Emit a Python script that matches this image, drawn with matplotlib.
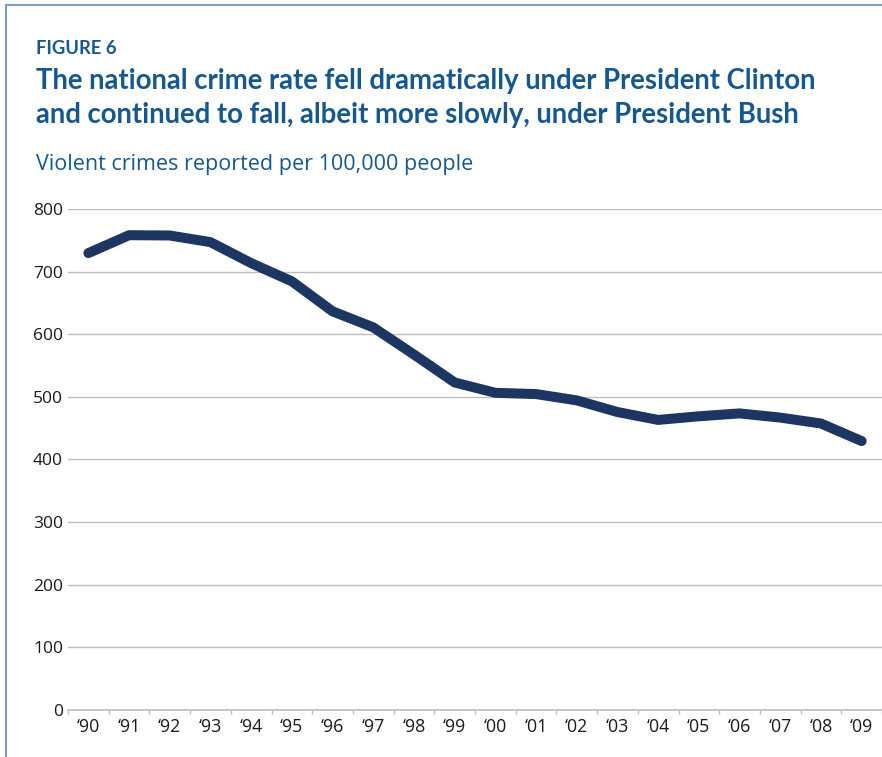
import matplotlib
matplotlib.use('Agg')
import matplotlib.pyplot as plt
from matplotlib.lines import Line2D
import numpy as np

# Violent crimes reported per 100,000 people, 1990-2009
years = ['\u201890', '\u201891', '\u201892', '\u201893', '\u201894', '\u201895', '\u201896',
         '\u201897', '\u201898', '\u201899', '\u201800', '\u201801', '\u201802', '\u201803',
         '\u201804', '\u201805', '\u201806', '\u201807', '\u201808', '\u201809']
crime_rate = [729.6, 758.2, 757.7, 747.1, 713.6, 684.5, 636.6, 611.0, 567.6, 523.0,
              506.5, 504.5, 494.4, 475.8, 463.2, 469.0, 473.6, 466.9, 457.5, 429.4]
y_ticks = [0, 100, 200, 300, 400, 500, 600, 700, 800]

blue = '#155890'
navy = '#1c3561'
grid_grey = '#bdbdbd'

plt.rcParams['font.family'] = ['Open Sans', 'DejaVu Sans']

fig = plt.figure(figsize=(8.82, 7.57), dpi=100)
ax = fig.add_axes([0.0771, 0.0621, 0.9229, 0.6618])

x = np.arange(len(years))
ax.plot(x, crime_rate, color=navy, linewidth=7.2, solid_capstyle='round',
        solid_joinstyle='round', clip_on=False, zorder=3)

ax.set_xlim(-0.5, len(years) - 0.5)
ax.set_ylim(0, 800)
ax.set_yticks(y_ticks)
ax.set_yticklabels([str(v) for v in y_ticks])
ax.set_xticks(x)
ax.set_xticklabels(years)
ax.set_xticks(np.arange(len(years) + 1) - 0.5, minor=True)

ax.grid(axis='y', color=grid_grey, linewidth=1.0)
ax.set_axisbelow(True)
for side in ['top', 'right', 'left']:
    ax.spines[side].set_visible(False)
ax.spines['bottom'].set_color(grid_grey)
ax.spines['bottom'].set_linewidth(1.2)

ax.tick_params(axis='y', length=0, pad=3.6, labelsize=12.5, labelcolor='#1a1a1a')
ax.tick_params(axis='x', which='major', length=0, pad=6, labelsize=12.8, labelcolor='#1a1a1a')
ax.tick_params(axis='x', which='minor', length=3, width=1.0, color=grid_grey)

# titles
title_font = ['Lato', 'DejaVu Sans']
fig.text(0.0408, 0.9287, 'FIGURE 6', color=blue, fontsize=13.2, fontweight='bold',
         family=title_font, va='baseline')
fig.text(0.0408, 0.8824, 'The national crime rate fell dramatically under President Clinton',
         color=blue, fontsize=19.8, fontweight='bold', family=title_font, va='baseline')
fig.text(0.0408, 0.8375, 'and continued to fall, albeit more slowly, under President Bush',
         color=blue, fontsize=19.8, fontweight='bold', family=title_font, va='baseline')
fig.text(0.0408, 0.7754, 'Violent crimes reported per 100,000 people',
         color=blue, fontsize=15.5, va='baseline')

# frame along the left and top edges
frame_col = '#7b9ec2'
fig.add_artist(Line2D([0.0068, 0.0068], [0, 0.9934], transform=fig.transFigure,
                      color=frame_col, linewidth=1.5))
fig.add_artist(Line2D([0.0068, 1.0], [0.9934, 0.9934], transform=fig.transFigure,
                      color=frame_col, linewidth=1.5))

fig.savefig('out.png', dpi=100)
